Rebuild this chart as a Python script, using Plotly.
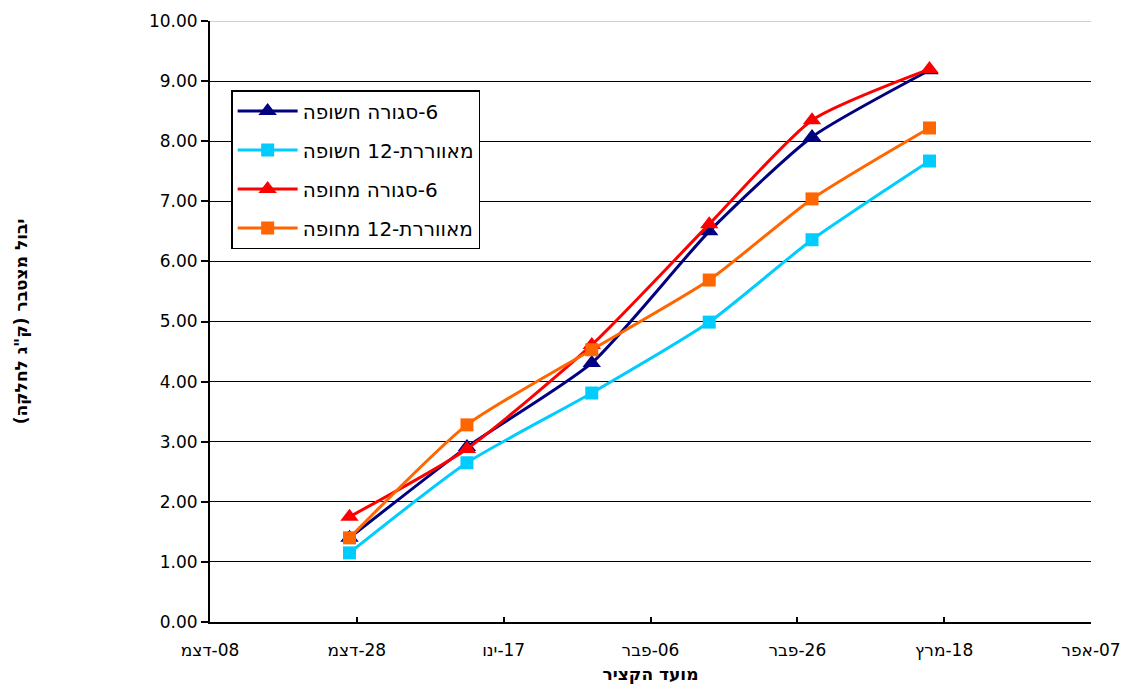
import plotly.graph_objects as go

RLE, PDF = "\u202B", "\u202C"

def rtl(s):
    return RLE + s + PDF

dates = ["2008-12-27", "2009-01-12", "2009-01-29", "2009-02-14", "2009-02-28", "2009-03-16"]
closed_bare = [1.40, 2.91, 4.31, 6.50, 8.07, 9.18]
vent_bare = [1.15, 2.65, 3.81, 4.99, 6.36, 7.67]
closed_mulch = [1.75, 2.88, 4.61, 6.62, 8.35, 9.20]
vent_mulch = [1.40, 3.28, 4.53, 5.69, 7.04, 8.22]

series_names = ["6-סגורה חשופה", "מאווררת-12 חשופה", "6-סגורה מחופה", "מאווררת-12 מחופה"]
series_values = [closed_bare, vent_bare, closed_mulch, vent_mulch]
colors = ["#000080", "#00CCFF", "#FF0000", "#FF6600"]
symbols = ["triangle-up", "square", "triangle-up", "square"]

tick_dates = ["2008-12-08", "2008-12-28", "2009-01-17", "2009-02-06", "2009-02-26", "2009-03-18", "2009-04-07"]
tick_labels = ["08-דצמ", "28-דצמ", "17-ינו", "06-פבר", "26-פבר", "18-מרץ", "07-אפר"]
y_ticks = [0, 1, 2, 3, 4, 5, 6, 7, 8, 9, 10]

x_title = "מועד הקציר"
y_title = 'יבול מצטבר (ק"ג לחלקה)'

FONT = "DejaVu Sans"

fig = go.Figure()
for i, (name, vals) in enumerate(zip(series_names, series_values)):
    fig.add_trace(go.Scatter(
        x=dates, y=vals, name=rtl(name), mode="lines+markers",
        line=dict(color=colors[i], width=3, shape="spline", smoothing=0.6),
        marker=dict(symbol=symbols[i], size=16 if symbols[i] == "triangle-up" else 13,
                    color=colors[i]),
        legendgroup=str(i),
    ))

# page has an 8px body margin, so the figure is 8px smaller and margins shifted
fig.update_layout(
    width=1133, height=676,
    margin=dict(l=202, r=50, t=13, b=62),
    paper_bgcolor="white", plot_bgcolor="white",
    font=dict(family=FONT, size=17, color="black"),
    showlegend=True,
    legend=dict(
        x=0.024, y=0.885, xanchor="left", yanchor="top",
        bgcolor="white", bordercolor="black", borderwidth=1.5,
        font=dict(family=FONT, size=20, color="black"),
        tracegroupgap=10, traceorder="grouped",
        itemwidth=60,
    ),
    shapes=[dict(type="line", xref="paper", yref="y", x0=0, x1=1, y0=10, y1=10,
                 line=dict(color="#c0c0c0", width=1.5), layer="above")],
)

fig.update_xaxes(
    type="date", range=[tick_dates[0], tick_dates[-1]], automargin=False,
    tickmode="array", tickvals=tick_dates, ticktext=[rtl(t) for t in tick_labels],
    showgrid=False, zeroline=False,
    showline=True, linecolor="black", linewidth=1.5,
    ticks="inside", ticklen=5, tickcolor="black", tickwidth=1.5,
    ticklabelstandoff=12,
    tickfont=dict(family=FONT, size=17),
    title=dict(text="<b>" + rtl(x_title) + "</b>", font=dict(family=FONT, size=17), standoff=14),
)
fig.update_yaxes(
    range=[0, 10], tickmode="array", tickvals=y_ticks, automargin=False,
    ticktext=[f"{v:.2f}" for v in y_ticks],
    showgrid=True, gridcolor="black", gridwidth=1,
    zeroline=False,
    showline=True, linecolor="black", linewidth=2,
    ticks="outside", ticklen=7, tickcolor="black", tickwidth=1.5,
    tickfont=dict(family=FONT, size=17),
    title=dict(text="<b>" + rtl(y_title) + "</b>", font=dict(family=FONT, size=17), standoff=117),
)

fig.write_html("out.html")
